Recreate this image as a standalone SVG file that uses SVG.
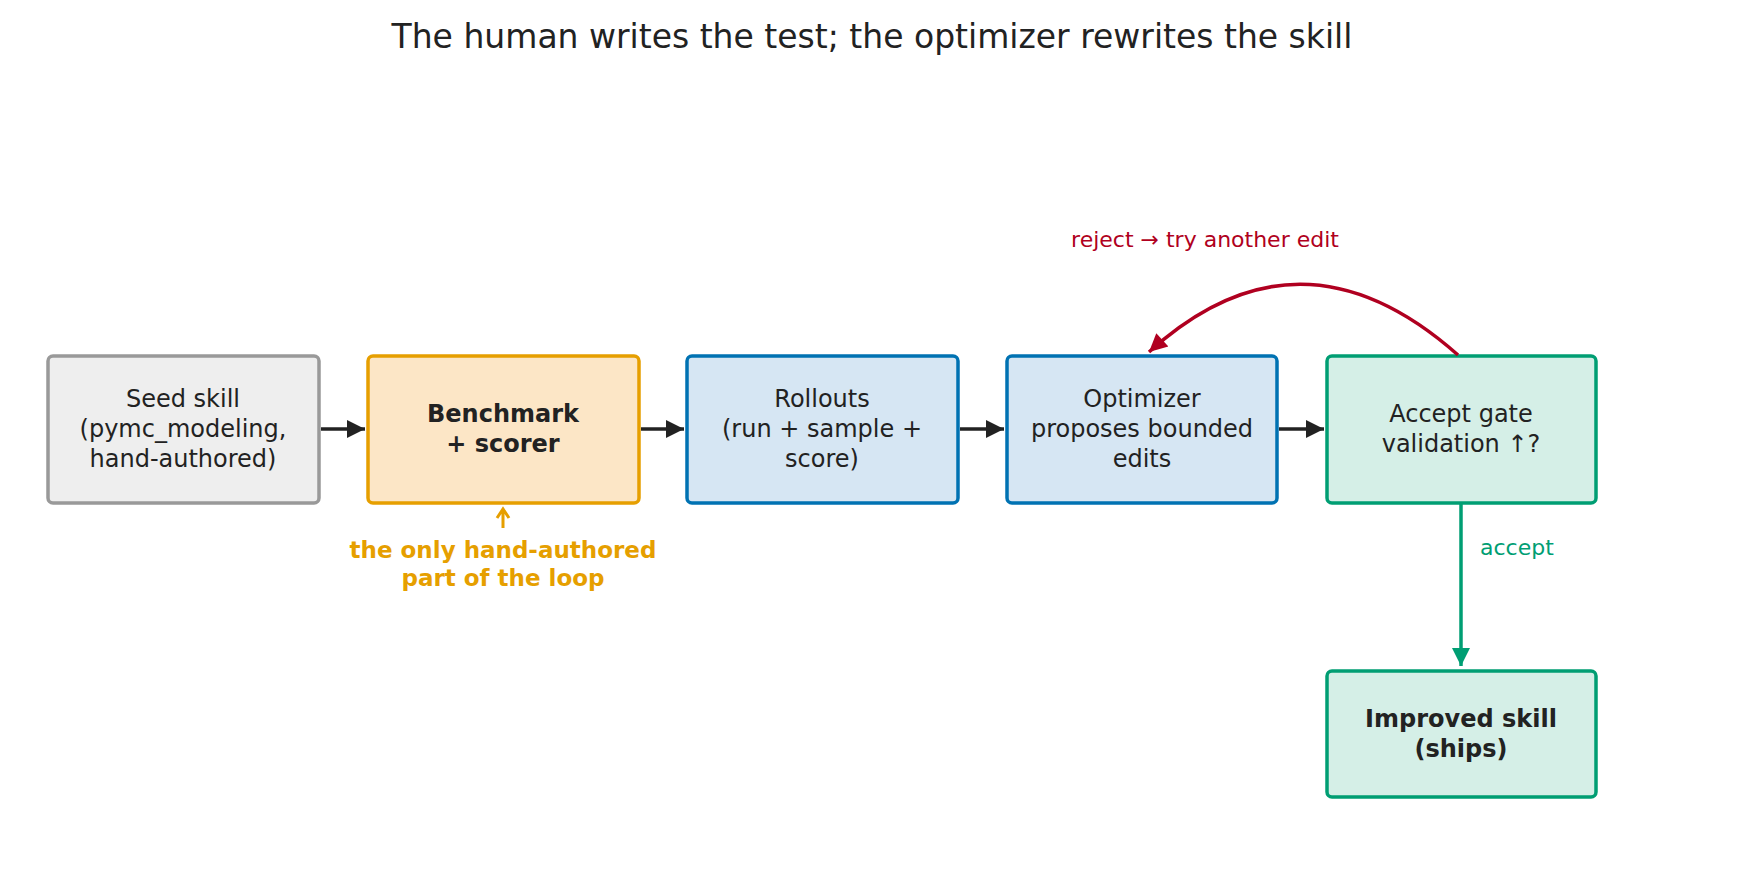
<svg xmlns="http://www.w3.org/2000/svg" width="1745" height="875" viewBox="0 0 1745 875">
<style>
text{font-family:"DejaVu Sans","Noto Sans",sans-serif;fill:#222;text-anchor:middle}
.t{font-size:24px}
.b{font-weight:bold}
.box{stroke-width:3.5}
</style>
<defs>
<marker id="ak" viewBox="0 0 10 10" refX="9" refY="5" markerWidth="5" markerHeight="5" orient="auto" markerUnits="userSpaceOnUse" style="overflow:visible"><path d="M0,0L10,5L0,10z" fill="#222" transform="scale(2)translate(-5,0)"/></marker>
<marker id="ag" viewBox="0 0 10 10" refX="10" refY="5" markerWidth="18" markerHeight="20" orient="auto" markerUnits="userSpaceOnUse"><path d="M0,0L10,5L0,10z" fill="#009e73"/></marker>
<marker id="ar" viewBox="0 0 10 10" refX="10" refY="5" markerWidth="20" markerHeight="18" orient="auto" markerUnits="userSpaceOnUse"><path d="M0,0L10,5L0,10z" fill="#b00020"/></marker>
<marker id="ab" viewBox="0 0 10 10" refX="10" refY="5" markerWidth="20" markerHeight="18" orient="auto" markerUnits="userSpaceOnUse"><path d="M0,0L10,5L0,10z" fill="#222"/></marker>
</defs>
<text x="872" y="48" style="font-size:33px">The human writes the test; the optimizer rewrites the skill</text>
<g id="seed"><rect class="box" x="48" y="356" width="271" height="147" rx="5" fill="#eeeeee" stroke="#999"/>
<text class="t" x="183" y="407">Seed skill</text><text class="t" x="183" y="437">(pymc_modeling,</text><text class="t" x="183" y="467">hand-authored)</text></g>
<g id="bench"><rect class="box" x="368" y="356" width="271" height="147" rx="5" fill="#fce6c6" stroke="#e69f00"/>
<text class="t b" x="503" y="422">Benchmark</text><text class="t b" x="503" y="452">+ scorer</text></g>
<g id="rollouts"><rect class="box" x="687" y="356" width="271" height="147" rx="5" fill="#d6e6f3" stroke="#0072b2"/>
<text class="t" x="822" y="407">Rollouts</text><text class="t" x="822" y="437">(run + sample +</text><text class="t" x="822" y="467">score)</text></g>
<g id="opt"><rect class="box" x="1007" y="356" width="270" height="147" rx="5" fill="#d6e6f3" stroke="#0072b2"/>
<text class="t" x="1142" y="407">Optimizer</text><text class="t" x="1142" y="437">proposes bounded</text><text class="t" x="1142" y="467">edits</text></g>
<g id="gate"><rect class="box" x="1327" y="356" width="269" height="147" rx="5" fill="#d5efe7" stroke="#009e73"/>
<text class="t" x="1461" y="422">Accept gate</text><text class="t" x="1461" y="452">validation ↑?</text></g>
<g id="improved"><rect class="box" x="1327" y="671" width="269" height="126" rx="5" fill="#d5efe7" stroke="#009e73"/>
<text class="t b" x="1461" y="727">Improved skill</text><text class="t b" x="1461" y="757">(ships)</text></g>
<g id="connectors" fill="none" stroke-width="3.5">
<line x1="321" y1="429" x2="365" y2="429" stroke="#222" marker-end="url(#ab)"/>
<line x1="641" y1="429" x2="684" y2="429" stroke="#222" marker-end="url(#ab)"/>
<line x1="960" y1="429" x2="1004" y2="429" stroke="#222" marker-end="url(#ab)"/>
<line x1="1279" y1="429" x2="1324" y2="429" stroke="#222" marker-end="url(#ab)"/>
<path d="M1458,355 Q1300,215 1149,352" stroke="#b00020" marker-end="url(#ar)"/>
<line x1="1461" y1="504" x2="1461" y2="666" stroke="#009e73" marker-end="url(#ag)"/>
<path d="M503,528 L503,510 M497,518 L503,509 L509,518" stroke="#e69f00" stroke-width="3"/>
</g>
<text x="1205" y="247" style="font-size:22px;fill:#b00020">reject  →  try another edit</text>
<text x="1480" y="555" style="font-size:22px;fill:#009e73;text-anchor:start">accept</text>
<text class="b" x="503" y="558" style="font-size:23px;fill:#e69f00">the only hand-authored</text>
<text class="b" x="503" y="586" style="font-size:23px;fill:#e69f00">part of the loop</text>
</svg>
